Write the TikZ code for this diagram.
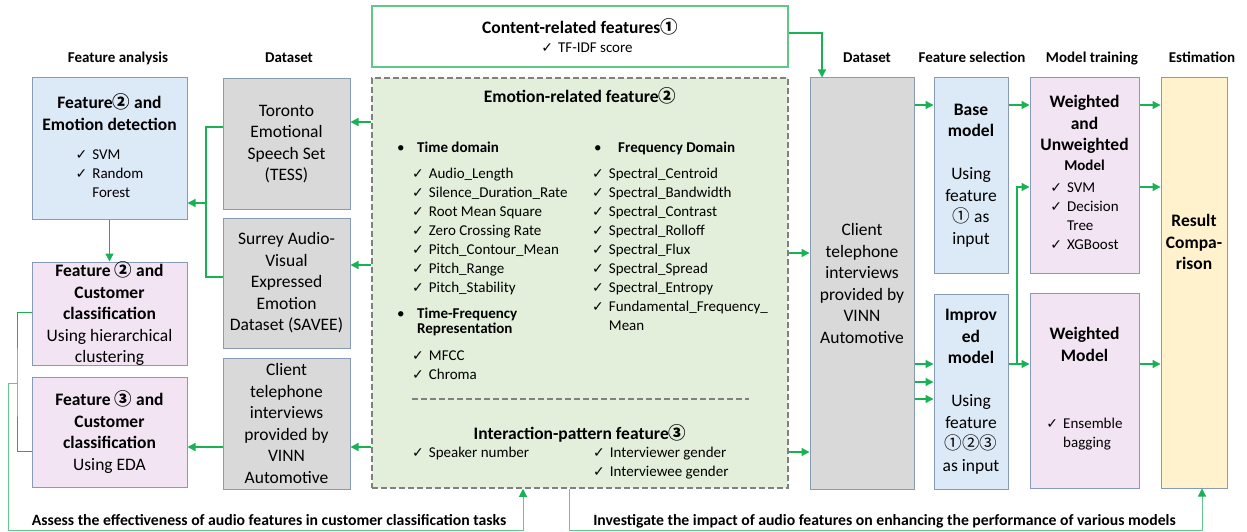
\documentclass[tikz,border=0pt]{standalone}
\usepackage{fontspec}
\setmainfont{Carlito}
\newfontfamily\cjk{Noto Sans CJK SC}
\newfontfamily\symb{DejaVu Sans}
\usetikzlibrary{arrows.meta}

\definecolor{flowgreen}{RGB}{24,178,84}
\definecolor{palegreen}{RGB}{100,200,140}
\definecolor{framegreen}{RGB}{95,200,135}
\definecolor{boxline}{RGB}{135,155,180}
\definecolor{bluefill}{RGB}{220,233,246}
\definecolor{pinkfill}{RGB}{243,228,243}
\definecolor{grayfill}{RGB}{217,217,217}
\definecolor{yellowfill}{RGB}{255,242,205}
\definecolor{featfill}{RGB}{227,239,219}
\definecolor{dashgray}{RGB}{128,128,128}

\newcommand{\boxfont}{\fontsize{17.5}{21.5}\selectfont}
\newcommand{\lstfont}{\fontsize{15}{19}\selectfont}
\newcommand{\ck}{{\symb\fontsize{14}{14}\selectfont ✓}}
\newcommand{\cn}[1]{{\cjk #1}}
\newcommand{\blt}{\makebox[20pt][l]{•}}
\newcommand{\cklist}[1]{\begin{tabular}[t]{@{}l@{\hspace{5pt}}l@{}}#1\end{tabular}}

\begin{document}
\begin{tikzpicture}[x=1pt,y=-1pt,
    box/.style={draw=boxline, line width=1pt, align=center, inner sep=0pt, font=\boxfont},
    head/.style={font=\fontsize{15}{18}\selectfont\bfseries, anchor=base},
    aim/.style={font=\fontsize{15.7}{18}\selectfont\bfseries, anchor=base},
    txt/.style={font=\lstfont, anchor=base west, inner sep=0pt},
    arr/.style={draw=flowgreen, line width=1.3pt, -{Triangle[length=8pt,width=8pt]}},
    link/.style={draw=flowgreen, line width=1.3pt},
    note/.style={draw=palegreen, line width=1pt},
    tip/.style={-{Triangle[length=8pt,width=8pt,color=flowgreen]}},
    sep/.style={draw=dashgray, line width=1.5pt, dash pattern=on 6pt off 3pt}]

  \useasboundingbox (0,0) rectangle (1247,532);

  % column headings
  \node[head] (hfa)  at (118,63)  {Feature analysis};
  \node[head] (hds1) at (289,63)  {Dataset};
  \node[head] (hds2) at (867,63)  {Dataset};
  \node[head] (hfs)  at (972,63)  {Feature selection};
  \node[head] (hmt)  at (1092,63) {Model training};
  \node[head] (hest) at (1202,63) {Estimation};

  % feature groups
  \node[draw=framegreen, line width=1.3pt, minimum width=416, minimum height=61] (content) at (580,36.5) {};
  \node[sep, fill=featfill, minimum width=416, minimum height=410] (feat) at (580,283) {};

  \node[anchor=base, font=\boxfont\bfseries] (ctitle) at (580,34) {Content-related features\cn{①}};
  \node[anchor=base, font=\lstfont] (citem) at (587,53) {\ck\hspace{5pt}TF-IDF score};

  \node[anchor=base, font=\boxfont\bfseries] (etitle) at (580,103) {Emotion-related feature\cn{②}};
  \node[txt] (tdhead) at (397,152) {\blt\textbf{Time domain}};
  \node[txt] (tdlist) at (412,178) {\cklist{\ck & Audio\_Length\\ \ck & Silence\_Duration\_Rate\\
      \ck & Root Mean Square\\ \ck & Zero Crossing Rate\\ \ck & Pitch\_Contour\_Mean\\
      \ck & Pitch\_Range\\ \ck & Pitch\_Stability}};
  \node[txt, font=\fontsize{15}{15.5}\selectfont] (tfhead) at (397,318)
    {\begin{tabular}[t]{@{}l@{}}\blt\textbf{Time-Frequency}\\\hspace*{20pt}\textbf{Representation}\end{tabular}};
  \node[txt] (tflist) at (412,360) {\cklist{\ck & MFCC\\ \ck & Chroma}};
  \node[txt] (fdhead) at (594,152) {\makebox[24pt][l]{•}\textbf{Frequency Domain}};
  \node[txt] (fdlist) at (592,178) {\cklist{\ck & Spectral\_Centroid\\ \ck & Spectral\_Bandwidth\\
      \ck & Spectral\_Contrast\\ \ck & Spectral\_Rolloff\\ \ck & Spectral\_Flux\\
      \ck & Spectral\_Spread\\ \ck & Spectral\_Entropy\\ \ck & Fundamental\_Frequency\_\\ & Mean}};
  \draw[sep] (412,399) -- (749,399);

  \node[anchor=base, font=\boxfont\bfseries] (ititle) at (580,439) {Interaction-pattern feature\cn{③}};
  \node[txt] (spk) at (412,457) {\cklist{\ck & Speaker number}};
  \node[txt] (gdr) at (593,457) {\cklist{\ck & Interviewer gender\\ \ck & Interviewee gender}};

  % boxes
  \begin{scope}[every node/.style={box}]
    \node[fill=bluefill, minimum width=155, minimum height=141] (emo) at (109.5,148.5)
      {\textbf{Feature\cn{②} and}\\\textbf{Emotion detection}\\[7.5pt]
       {\lstfont\cklist{\ck & SVM\\ \ck & Random\\ & Forest}}};
    \node[fill=pinkfill, minimum width=155, minimum height=102] (cls2) at (109.5,314)
      {\textbf{Feature \cn{②} and}\\\textbf{Customer}\\\textbf{classification}\\Using hierarchical\\clustering};
    \node[fill=pinkfill, minimum width=155, minimum height=110] (cls3) at (109.5,432)
      {\textbf{Feature \cn{③} and}\\\textbf{Customer}\\\textbf{classification}\\Using EDA};
    \node[fill=grayfill, minimum width=127, minimum height=131] (tess) at (286.5,144)
      {Toronto\\Emotional\\Speech Set\\(TESS)};
    \node[fill=grayfill, minimum width=127, minimum height=130] (savee) at (286.5,283)
      {Surrey Audio-\\Visual\\Expressed\\Emotion\\Dataset (SAVEE)};
    \node[fill=grayfill, minimum width=127, minimum height=131] (clientL) at (286.5,423.5)
      {Client\\telephone\\interviews\\provided by\\VINN\\Automotive};
    \node[fill=grayfill, minimum width=104, minimum height=411] (clientR) at (862,283.5)
      {Client\\telephone\\interviews\\provided by\\VINN\\Automotive};
    \node[fill=bluefill, minimum width=74, minimum height=195] (base) at (971,175.5)
      {\textbf{Base}\\\textbf{model}\\[21.5pt]Using\\feature\\\cn{①} as\\input};
    \node[fill=bluefill, minimum width=74, minimum height=195] (impr) at (971,391.5)
      {\textbf{Improv}\\\textbf{ed}\\\textbf{model}\\[21.5pt]Using\\feature\\\cn{①②③}\\as input};
    \node[fill=pinkfill, minimum width=109, minimum height=195] (wu) at (1084.5,175.5)
      {\textbf{Weighted}\\\textbf{and}\\\textbf{Unweighted}\\[-1.5pt]{\lstfont\textbf{Model}}\\[0.5pt]
       {\lstfont\cklist{\ck & SVM\\ \ck & Decision\\ & Tree\\ \ck & XGBoost}}};
    \node[fill=pinkfill, minimum width=109, minimum height=195] (wm) at (1084.5,390.5)
      {\textbf{Weighted}\\\textbf{Model}\\[46pt]{\lstfont\cklist{\ck & Ensemble\\ & bagging}}};
    \node[fill=yellowfill, minimum width=66, minimum height=410] (res) at (1194,283) {};
  \end{scope}
  \node[font=\boxfont\bfseries, align=center] (restxt) at (1194,242) {Result\\Compa-\\rison};

  % row levels for the connectors
  \coordinate (lvTess)   at (0,122);
  \coordinate (lvSavee)  at (0,265);
  \coordinate (lvVinn)   at (0,447);
  \coordinate (lvEmoOut) at (0,253);
  \coordinate (lvIntOut) at (0,452);
  \coordinate (lvTop)    at (0,105);
  \coordinate (lvMid)    at (0,187);
  \coordinate (lvLow)    at (0,364);
  \coordinate (lvLow2)   at (0,382);
  \coordinate (lvLow3)   at (0,399);

  \coordinate (cturn)   at (822,33);
  \coordinate (dsjoin)  at (206,203);
  \coordinate (brk)     at (17,383);
  \coordinate (assessL) at (8,530);
  \coordinate (assessR) at (523,530);
  \coordinate (investL) at (569,530);
  \coordinate (investR) at (1202,530);
  \coordinate (branch)  at (1017,364);

  % left half
  \draw[arr] (feat.west |- lvTess) -- (tess.east |- lvTess);
  \draw[arr] (feat.west |- lvSavee) -- (savee.east |- lvSavee);
  \draw[arr] (feat.west |- lvVinn) -- (clientL.east |- lvVinn);
  \draw[arr] (clientL.west |- lvVinn) -- (cls3.east |- lvVinn);
  \draw[arr] ([yshift=17]tess.west) -| (dsjoin) -- (emo.east |- dsjoin);
  \draw[link] ([yshift=6]savee.west) -| (dsjoin);
  \draw[arr] (emo.south) -- (cls2.north);
  \draw[note, draw=flowgreen] ([yshift=2]cls2.west) -| (brk) |- ([yshift=-19]cls3.west);
  \draw[note, tip] (brk) -| (assessL) -- (assessR) -- (assessR |- feat.south);

  % right half
  \draw[arr] (content.east |- cturn) -- (cturn) -- (cturn |- clientR.north);
  \draw[arr] (feat.east |- lvEmoOut) -- (clientR.west |- lvEmoOut);
  \draw[arr] (feat.east |- lvIntOut) -- (clientR.west |- lvIntOut);
  \draw[arr] (clientR.east |- lvTop) -- (base.west |- lvTop);
  \draw[arr] (base.east |- lvTop) -- (wu.west |- lvTop);
  \draw[arr] (wu.east |- lvTop) -- (res.west |- lvTop);
  \draw[arr] (wu.east |- lvMid) -- (res.west |- lvMid);
  \draw[arr] (clientR.east |- lvLow) -- (impr.west |- lvLow);
  \draw[arr] (clientR.east |- lvLow2) -- (impr.west |- lvLow2);
  \draw[arr] (clientR.east |- lvLow3) -- (impr.west |- lvLow3);
  \draw[arr] (impr.east |- lvLow) -- (wm.west |- lvLow);
  \draw[arr] (branch) |- (wu.west |- lvMid);
  \draw[arr] (wm.east |- lvLow) -- (res.west |- lvLow);
  \draw[note, tip] (feat.south -| investL) -- (investL) -- (investR) -- (investR |- res.south);

  % study aims
  \node[aim] (assess) at (269,525)
    {Assess the effectiveness of audio features in customer classification tasks};
  \node[aim] (invest) at (884.5,525)
    {Investigate the impact of audio features on enhancing the performance of various models};

\end{tikzpicture}
\end{document}
